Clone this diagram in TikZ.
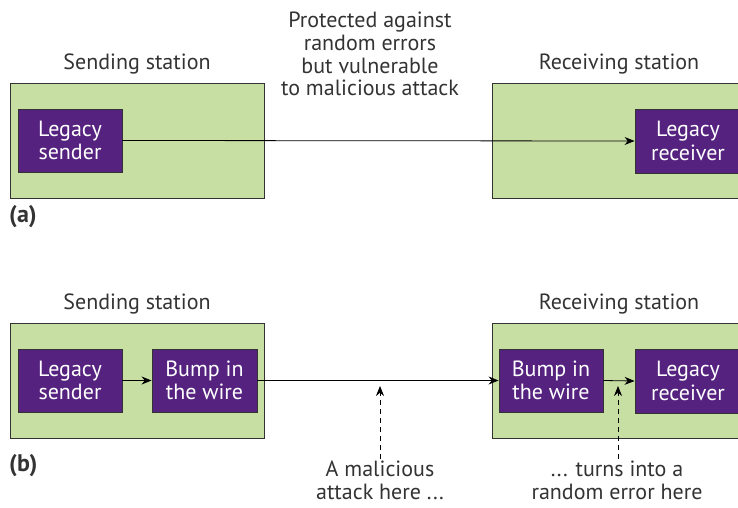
\documentclass[tikz,border=0pt]{standalone}
\usepackage{fontspec}
\setmainfont{PT Sans}
\usetikzlibrary{arrows.meta}
\definecolor{stgreen}{HTML}{C8DFA4}
\definecolor{stpurple}{HTML}{55237F}
\definecolor{stline}{HTML}{333333}
\tikzset{
  station/.style={draw=stline, fill=stgreen, line width=0.9pt},
  unit/.style={draw=stline, fill=stpurple, line width=0.9pt, text=white, align=center, font=\fontsize{22}{23.5}\selectfont, inner sep=0pt},
  lbl/.style={text=stline, align=center, font=\fontsize{22}{22.7}\selectfont, inner sep=0pt},
  tag/.style={text=stline, inner sep=0pt, anchor=west, font=\fontsize{24}{24}\selectfont\bfseries},
  flow/.style={draw=black, line width=0.8pt, -{Stealth[length=10pt,width=8pt]}},
  note/.style={draw=black, line width=0.8pt, dashed, dash pattern=on 5pt off 4pt, -{Stealth[length=10pt,width=8pt]}},
}
\begin{document}
\begin{tikzpicture}[x=1pt,y=-1pt]
\useasboundingbox (0,0) rectangle (738,508);
\clip (0,0) rectangle (738,508);
% ---------- (a)
\path[station] (10,83) rectangle (264,198);
\path[station] (492,83) rectangle (760,198);
\node[unit, minimum width=104pt, minimum height=63pt] (as) at (70,140.5) {Legacy\\sender};
\node[unit, minimum width=106pt, minimum height=64pt] (ar) at (688,141) {Legacy\\receiver};
\node[lbl] (asl) at (137,64) {Sending station};
\node[lbl] (arl) at (619,64) {Receiving station};
\node[lbl] (aprot) at (370,54) {Protected against\\random errors\\but vulnerable\\to malicious attack};
\node[tag] (alab) at (9,217) {(a)};
\draw[flow] (as.east) -- (ar.west);
% ---------- (b)
\path[station] (10,323) rectangle (264,438);
\path[station] (492,323) rectangle (760,438);
\node[unit, minimum width=104pt, minimum height=63pt] (bs) at (70,380.5) {Legacy\\sender};
\node[unit, minimum width=105pt, minimum height=63pt] (bb1) at (204.5,380.5) {Bump in\\the wire};
\node[unit, minimum width=104pt, minimum height=63pt] (bb2) at (551,380.5) {Bump in\\the wire};
\node[unit, minimum width=106pt, minimum height=64pt] (br) at (688,381) {Legacy\\receiver};
\node[lbl] (bsl) at (137,304) {Sending station};
\node[lbl] (brl) at (619,304) {Receiving station};
\node[tag] (blab) at (9,466) {(b)};
\node[lbl] (batt) at (380,480) {A malicious\\attack here ...};
\node[lbl] (berr) at (617,480) {... turns into a\\random error here};
\draw[flow] (bs.east) -- (bb1.west);
\draw[flow] (bb1.east) -- (bb2.west);
\draw[flow] (bb2.east) -- (br.west);
\coordinate (hit1) at (380,386);
\coordinate (hit2) at (618,386);
\draw[note] (batt.north -| hit1) ++(0,-2) -- (hit1);
\draw[note] (berr.north -| hit2) ++(0,-2) -- (hit2);
\end{tikzpicture}
\end{document}
